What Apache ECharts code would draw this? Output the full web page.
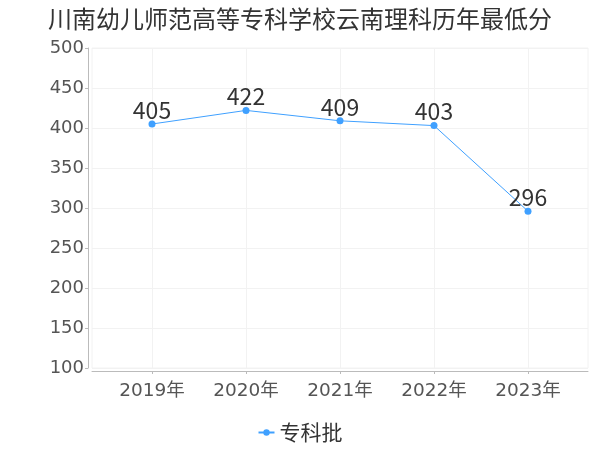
<!DOCTYPE html>
<html><head><meta charset="utf-8">
<script src="https://cdn.jsdelivr.net/npm/echarts@6/dist/echarts.min.js"></script>
<style>html,body{margin:0;padding:0;background:#fff}#c{width:600px;height:450px}</style>
</head><body><div id="c"></div>
<script>
var titleText = '川南幼儿师范高等专科学校云南理科历年最低分';
var categories = ['2019年', '2020年', '2021年', '2022年', '2023年'];
var seriesName = '专科批';
var values = [405, 422, 409, 403, 296];
var yMin = 100, yMax = 500, yStep = 50;

var FONT = '"Noto Sans CJK SC", sans-serif';
var AXFONT = '"DejaVu Sans", "Noto Sans CJK SC", sans-serif';
var chart = echarts.init(document.getElementById('c'));
chart.setOption({
  animation: false,
  textStyle: { fontFamily: FONT },
  title: { text: titleText, left: 'center', top: 2,
    textStyle: { fontSize: 24, fontWeight: 'normal', color: '#333', fontFamily: FONT } },
  legend: { bottom: 2, left: 'center', itemWidth: 16, itemHeight: 8,
    textStyle: { fontSize: 21, color: '#333', fontFamily: FONT },
    data: [seriesName] },
  grid: [
    { left: 92, right: 12, top: 48, bottom: 82, show: true, borderColor: '#f2f2f2', borderWidth: 1 },
    { left: 105, right: 25, top: 48, bottom: 82 }
  ],
  xAxis: [
    { gridIndex: 0, type: 'category', data: categories, offset: 3,
      axisLine: { show: true, lineStyle: { color: '#bbb' } },
      axisTick: { show: false }, axisLabel: { show: false }, splitLine: { show: false } },
    { gridIndex: 1, type: 'category', data: categories, boundaryGap: true, offset: 3,
      axisLine: { show: false },
      axisTick: { show: true, alignWithLabel: true, length: 3, lineStyle: { color: '#bbb' } },
      axisLabel: { fontSize: 18.5, color: '#555', margin: 11, fontFamily: AXFONT },
      splitLine: { show: true, alignWithLabel: true, lineStyle: { color: '#f2f2f2' } } }
  ],
  yAxis: [
    { gridIndex: 0, type: 'value', min: yMin, max: yMax, interval: yStep, offset: 4,
      axisLine: { show: true, lineStyle: { color: '#bbb' } },
      axisTick: { show: true, length: 3, lineStyle: { color: '#bbb' } },
      axisLabel: { fontSize: 18, color: '#555', margin: 4, fontFamily: AXFONT },
      splitLine: { show: true, lineStyle: { color: '#f2f2f2' } } },
    { gridIndex: 1, type: 'value', min: yMin, max: yMax, show: false, splitLine: { show: false } }
  ],
  series: [{
    name: seriesName, type: 'line', xAxisIndex: 1, yAxisIndex: 1, data: values,
    symbol: 'circle', symbolSize: 7,
    itemStyle: { color: '#3fa0ff' },
    lineStyle: { width: 1, color: '#3fa0ff' },
    label: { show: true, position: 'top', distance: -1, fontSize: 23, color: '#333', fontFamily: FONT }
  }]
});
</script></body></html>
